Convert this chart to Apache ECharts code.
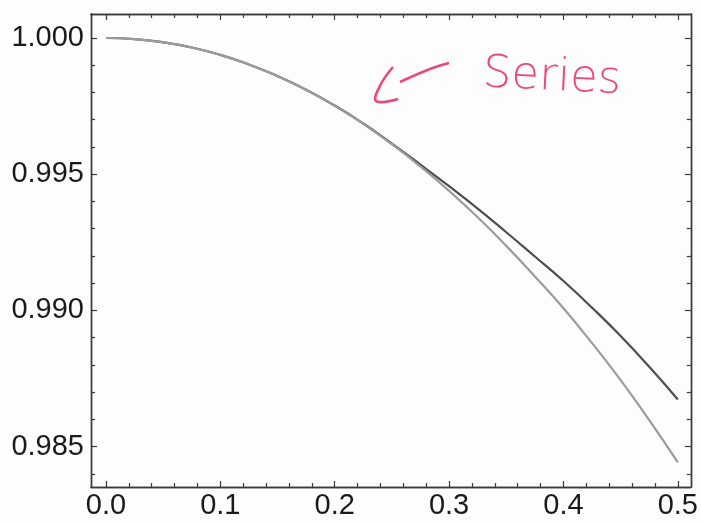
<!DOCTYPE html>
<html>
<head>
<meta charset="utf-8">
<script src="https://cdn.jsdelivr.net/npm/echarts@6/dist/echarts.min.js"></script>
<style>html,body{margin:0;padding:0;background:#fdfdfd;}#c{width:701px;height:523px;}</style>
</head>
<body>
<div id="c"></div>
<script>
// x values
const xs = [0, 0.025, 0.05, 0.075, 0.10, 0.125, 0.15, 0.175, 0.20, 0.225, 0.25,
            0.275, 0.30, 0.325, 0.35, 0.375, 0.40, 0.425, 0.45, 0.475, 0.50];
// upper (darker) curve
const upper = [1.00000, 0.99996, 0.99984, 0.99965, 0.99938, 0.99903, 0.99860, 0.99810, 0.99752, 0.99686, 0.99612,
               0.99535, 0.99456, 0.99374, 0.99287, 0.99198, 0.99108, 0.99010, 0.98906, 0.98793, 0.98673];
// lower (lighter) curve
const lower = [1.00000, 0.99996, 0.99984, 0.99965, 0.99938, 0.99903, 0.99860, 0.99810, 0.99751, 0.99685, 0.99610,
               0.99528, 0.99439, 0.99342, 0.99237, 0.99125, 0.99008, 0.98880, 0.98744, 0.98597, 0.98442];
// tick labels
const xTicks = [0.0, 0.1, 0.2, 0.3, 0.4, 0.5];
const xMinor = [0.02,0.04,0.06,0.08,0.12,0.14,0.16,0.18,0.22,0.24,0.26,0.28,0.32,0.34,0.36,0.38,0.42,0.44,0.46,0.48];
const yTicks = [0.985, 0.990, 0.995, 1.000];
const yMinor = [0.984,0.986,0.987,0.988,0.989,0.991,0.992,0.993,0.994,0.996,0.997,0.998,0.999];

const XMIN = -0.01309, XMAX = 0.51134, YMIN = 0.98352, YMAX = 1.00088;
const frameColor = '#3a3a3a';
const labelFont = {color:'#1a1a1a', fontSize:29, fontFamily:'Liberation Sans, Arial, sans-serif'};

function xAx(pos, values, len, labels){
  return {type:'value', position:pos, min:XMIN, max:XMAX,
    axisLine:{show:true, onZero:false, lineStyle:{color:frameColor, width:1.4}},
    axisTick:{show:true, inside:true, length:len, customValues:values, lineStyle:{color:frameColor, width:1.2}},
    axisLabel: labels ? Object.assign({show:true, customValues:values, margin:4, formatter:v=>v.toFixed(1)}, labelFont) : {show:false},
    splitLine:{show:false}};
}
function yAx(pos, values, len, labels){
  return {type:'value', position:pos, min:YMIN, max:YMAX,
    axisLine:{show:true, onZero:false, lineStyle:{color:frameColor, width:1.4}},
    axisTick:{show:true, inside:true, length:len, customValues:values, lineStyle:{color:frameColor, width:1.2}},
    axisLabel: labels ? Object.assign({show:true, customValues:values, margin:7, formatter:v=>v.toFixed(3)}, labelFont) : {show:false},
    splitLine:{show:false}};
}

const chart = echarts.init(document.getElementById('c'), null, {renderer:'canvas'});
chart.setOption({
  backgroundColor:'#fdfdfd',
  animation:false,
  grid:{left:91, top:14, right:9, bottom:36, containLabel:false},
  xAxis:[xAx('bottom', xTicks, 6, true), xAx('bottom', xMinor, 4, false), xAx('top', xTicks, 6, false), xAx('top', xMinor, 4, false)],
  yAxis:[yAx('left', yTicks, 6, true), yAx('left', yMinor, 4, false), yAx('right', yTicks, 6, false), yAx('right', yMinor, 4, false)],
  series:[
    {type:'line', name:'upper', data:xs.map((x,i)=>[x, upper[i]]), smooth:true, showSymbol:false,
      lineStyle:{color:'#4d4d4d', width:2.2}},
    {type:'line', name:'lower', data:xs.map((x,i)=>[x, lower[i]]), smooth:true, showSymbol:false,
      lineStyle:{color:'#9c9c9c', width:2.2}}
  ],
  graphic:[
    {type:'polyline', shape:{points:[[449,63],[430,69],[400,82]], smooth:0.4},
      style:{stroke:'#ea4a78', lineWidth:2.6, fill:null}},
    {type:'polyline', shape:{points:[[393,67],[381,84],[376,101],[398,99]], smooth:0.4},
      style:{stroke:'#ea4a78', lineWidth:2.6, fill:null}},
    {type:'text', x:484, y:52, rotation:-0.05,
      style:{text:'Series', fill:'#ea4a78', fontSize:45, fontWeight:200, fontFamily:'DejaVu Sans, sans-serif'}}
  ]
});
</script>
</body>
</html>
